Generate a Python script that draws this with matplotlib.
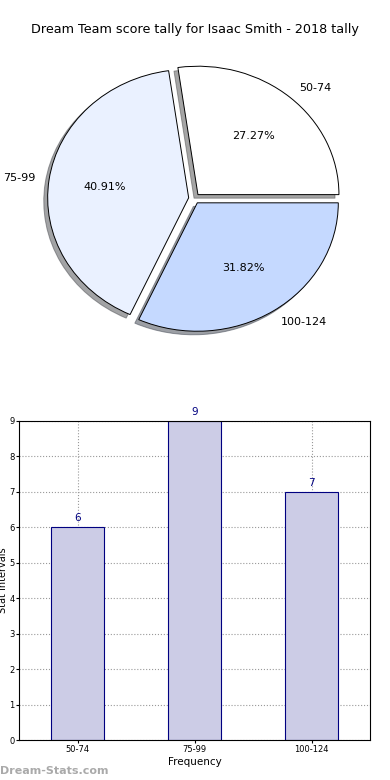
import matplotlib
matplotlib.use('Agg')
import matplotlib.pyplot as plt

categories = ['50-74', '75-99', '100-124']
counts = [6, 9, 7]
pie_colors = ['#ffffff', '#eaf1ff', '#c5d9ff']
explode = [0.04, 0.04, 0.04]
y_ticks = [0, 1, 2, 3, 4, 5, 6, 7, 8, 9]

fig = plt.figure(figsize=(3.9, 7.8), dpi=100)

# pie on top (slightly squashed, like the original)
ax1 = fig.add_axes([18 / 390, 421 / 780, 352.5 / 390, 321 / 780])
ax1.pie(counts, labels=categories, colors=pie_colors, explode=explode,
        autopct='%.2f%%', shadow=True, startangle=0,
        wedgeprops={'edgecolor': 'black', 'linewidth': 0.7},
        textprops={'fontsize': 8})
ax1.set_aspect('auto')
ax1.set_xlim(-1.25, 1.25)
ax1.set_ylim(-1.25, 1.25)
fig.text(0.5, 0.962, 'Dream Team score tally for Isaac Smith - 2018 tally',
         ha='center', va='center', fontsize=9.2)

# bar chart underneath
ax2 = fig.add_axes([19 / 390, 40 / 780, 351 / 390, 319 / 780])
x = range(len(categories))
bars = ax2.bar(x, counts, width=0.45, color='#cccce6', edgecolor='navy', linewidth=0.8, zorder=2)
for b, v in zip(bars, counts):
    ax2.text(b.get_x() + b.get_width() / 2, v + 0.12, str(v), ha='center', va='bottom',
             color='navy', fontsize=7.5)
ax2.set_xlim(-0.5, 2.5)
ax2.set_ylim(0, 9)
ax2.set_yticks(y_ticks)
ax2.set_xticks(list(x))
ax2.set_xticklabels(categories)
ax2.tick_params(labelsize=6, length=2, pad=1.5)
ax2.tick_params(axis='y', pad=1)
ax2.grid(True, linestyle=':', color='#999999', linewidth=0.8, zorder=0)
ax2.set_xlabel('Frequency', fontsize=7.5, labelpad=2)
ax2.set_ylabel('Stat Intervals', fontsize=7)
ax2.yaxis.set_label_coords(-10.5 / 351, 0.5)

fig.text(0.0, 0.012, 'Dream-Stats.com', fontsize=8, color='#aaaaaa', fontweight='bold', va='center')

fig.savefig('out.png', dpi=100)
